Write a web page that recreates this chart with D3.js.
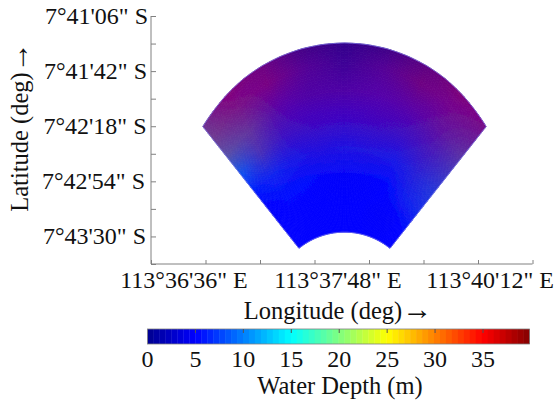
<!DOCTYPE html>
<html>
<head>
<meta charset="utf-8">
<script src="https://cdn.jsdelivr.net/npm/d3@7"></script>
<style>
  html, body { margin: 0; padding: 0; background: #fff; }
  svg { display: block; }
  text { font-family: "Liberation Serif", serif; fill: #111; }
  .axis path, .axis line { stroke: #808080; }
</style>
</head>
<body>
<svg id="chart" width="554" height="402"></svg>
<script>
// axes are arcseconds east of 113d36'00" and south of 7d41'06"
const lonLabels = ["113°36'36\" E", "113°37'48\" E", "113°40'12\" E"];
const lonLabelAt = [21.8, 123.5, 224];
const latLabels = ["7°41'06\" S", "7°41'42\" S", "7°42'18\" S", "7°42'54\" S", "7°43'30\" S"];
const latLabelShift = [0, -1, -1.5, -3, -2];
const depthTicks = [0, 5, 10, 15, 20, 25, 30, 35];

// sector seen from the site, arcseconds
const site = [127.8, 189.4];
const innerRange = 48.2;
const beamBearings = [-38.6, -33.775, -28.95, -24.125, -19.3, -14.475, -9.65, -4.825, 0, 4.825, 9.65, 14.475, 19.3, 24.125, 28.95, 33.775, 38.6];
const outerRange = [150, 154.4, 158.8, 162.7, 165.9, 168.4, 170.3, 171.4, 171.8, 171.4, 170.3, 168.4, 165.9, 162.7, 158.8, 154.4, 150];

// field nodes: one row per share of the way from inner to outer edge
const gridBearings = [-38.6, -28.95, -19.3, -9.65, 0, 9.65, 19.3, 28.95, 38.6];
const gridRows = [0, 0.15, 0.3, 0.45, 0.6, 0.75, 0.9, 1];
const shallowDepth = [
  [5, 5, 5, 5, 5, 5, 5, 5, 5],
  [5, 5, 5, 5, 5, 5, 4.8, 4.8, 5.4],
  [4.8, 5.4, 5.4, 5.2, 5.2, 5.2, 5.2, 6.2, 6.8],
  [5.8, 6.5, 6, 5.7, 5.9, 5.9, 6, 6.5, 7.5],
  [8.3, 7.5, 5.8, 5.3, 5.3, 5.3, 5.6, 6.2, 7.6],
  [9.7, 8.2, 5.4, 4.3, 4.3, 4.9, 5, 5.9, 8],
  [9.1, 6.5, 4.6, 3.6, 2.4, 3.6, 3.8, 5.4, 6.6],
  [8.5, 4.6, 3.8, 1.9, 1.4, 1.7, 2.8, 4.1, 5.7]
];
// share of each pixel taken by the 35 m cells
const deepShare = [
  [0, 0, 0, 0, 0, 0, 0, 0, 0],
  [0, 0, 0, 0, 0, 0, 0, 0, 0],
  [0, 0, 0, 0.01, 0.02, 0.01, 0, 0.06, 0.08],
  [0, 0.06, 0.1, 0.13, 0.12, 0.13, 0.1, 0.15, 0.14],
  [0.04, 0.28, 0.24, 0.25, 0.24, 0.25, 0.24, 0.26, 0.24],
  [0.33, 0.39, 0.35, 0.31, 0.31, 0.33, 0.35, 0.37, 0.35],
  [0.43, 0.47, 0.47, 0.33, 0.24, 0.33, 0.43, 0.45, 0.41],
  [0.43, 0.51, 0.43, 0.27, 0.2, 0.25, 0.37, 0.49, 0.47]
];

const svg = d3.select("#chart");

const x = d3.scaleLinear().domain([0, 252]).range([151, 532.5]);
const y = d3.scaleLinear().domain([0, 162]).range([16, 264]);

const jet = d3.scaleLinear()
  .domain([0, 5, 15, 25, 35, 40])
  .range(["#00008f", "#0000ff", "#00ffff", "#ffff00", "#ff0000", "#800000"])
  .clamp(true);

// axes
const xAxis = svg.append("g")
  .attr("class", "axis")
  .attr("transform", `translate(0, ${y.range()[1]})`)
  .call(d3.axisTop(x).tickValues(d3.range(0, 253, 36)).tickSize(4).tickSizeOuter(0).tickFormat(""));
xAxis.select(".domain").attr("d", `M${x.range()[0]},0H${x.range()[1]}`);

const yAxis = svg.append("g")
  .attr("class", "axis")
  .attr("transform", `translate(${x.range()[0]}, 0)`)
  .call(d3.axisRight(y).tickValues(d3.range(0, 163, 18)).tickSize(5).tickSizeOuter(0).tickFormat(""));
yAxis.select(".domain").attr("d", `M0,${y.range()[0]}V${y.range()[1]}`);

svg.append("g").selectAll("text")
  .data(lonLabels)
  .join("text")
  .attr("x", (d, i) => x(lonLabelAt[i]))
  .attr("y", 288)
  .attr("text-anchor", "middle")
  .attr("font-size", 24)
  .text(d => d);

svg.append("g").selectAll("text")
  .data(latLabels)
  .join("text")
  .attr("x", (d, i) => x(0) + latLabelShift[i] - 3)
  .attr("y", (d, i) => y(i * 36) + 8)
  .attr("text-anchor", "end")
  .attr("font-size", 24)
  .text(d => d);

// the arrow in the titles is drawn longer than the font's own size gives
const latTitle = svg.append("text")
  .attr("transform", "translate(28, 127) rotate(-90)")
  .attr("text-anchor", "middle")
  .attr("font-size", 24.5)
  .text("Latitude (deg)");
latTitle.append("tspan").attr("font-size", 30).text("→");

const lonTitle = svg.append("text")
  .attr("x", 338)
  .attr("y", 319)
  .attr("text-anchor", "middle")
  .attr("font-size", 24.5)
  .text("Longitude (deg)");
lonTitle.append("tspan").attr("font-size", 30).text("→");

// field, shaded between the nodes
const reach = d3.scaleLinear().domain(beamBearings).range(outerRange);
const rowAt = d3.scaleLinear().domain(gridRows).range(d3.range(gridRows.length));
const colAt = d3.scaleLinear().domain(gridBearings).range(d3.range(gridBearings.length));

function nodeValue(grid, t, b) {
  const rf = rowAt(t), cf = colAt(b);
  const r0 = Math.min(Math.floor(rf), gridRows.length - 2);
  const c0 = Math.min(Math.floor(cf), gridBearings.length - 2);
  const top = d3.interpolateNumber(grid[r0][c0], grid[r0][c0 + 1])(cf - c0);
  const bot = d3.interpolateNumber(grid[r0 + 1][c0], grid[r0 + 1][c0 + 1])(cf - c0);
  return d3.interpolateNumber(top, bot)(rf - r0);
}

function place(t, b) {
  const r = innerRange + t * (reach(b) - innerRange);
  const a = b * Math.PI / 180;
  return [x(site[0] + r * Math.sin(a)), y(site[1] - r * Math.cos(a))];
}

// slight blur, the source picture is soft and this hides the seams
const blur = svg.append("defs").append("filter")
  .attr("id", "soft")
  .attr("x", "-5%").attr("y", "-5%").attr("width", "110%").attr("height", "110%");
blur.append("feGaussianBlur").attr("stdDeviation", 0.6);

const shadeSteps = 70, beamSteps = 90;
const bearingSpan = d3.extent(beamBearings);
const shadeT = d3.range(shadeSteps + 1).map(i => i / shadeSteps);
const shadeB = d3.range(beamSteps + 1).map(i => bearingSpan[0] + (bearingSpan[1] - bearingSpan[0]) * i / beamSteps);
const cells = d3.cross(d3.range(shadeSteps), d3.range(beamSteps));

const field = svg.append("g").attr("filter", "url(#soft)");

field.selectAll("path")
  .data(cells)
  .join("path")
  .attr("d", ([i, j]) => {
    const corners = [
      place(shadeT[i], shadeB[j]), place(shadeT[i], shadeB[j + 1]),
      place(shadeT[i + 1], shadeB[j + 1]), place(shadeT[i + 1], shadeB[j])
    ];
    return "M" + corners.join("L") + "Z";
  })
  .each(function([i, j]) {
    const t = (shadeT[i] + shadeT[i + 1]) / 2, b = (shadeB[j] + shadeB[j + 1]) / 2;
    const c = d3.interpolateRgb(jet(nodeValue(shallowDepth, t, b)), jet(35))(nodeValue(deepShare, t, b));
    d3.select(this).attr("fill", c).attr("stroke", c).attr("stroke-width", 0.8);
  });

// outline of the sector
const edge = [
  ...shadeB.map(b => place(1, b)),
  ...shadeB.slice().reverse().map(b => place(0, b))
];
svg.append("path")
  .attr("d", "M" + edge.join("L") + "Z")
  .attr("fill", "none")
  .attr("stroke", "#8080e8")
  .attr("stroke-width", 0.7);

// colour bar
const c = d3.scaleLinear().domain([0, 35]).range([147.5, 483]);
const barMax = 39.85;
const barBins = d3.range(64);
const binW = barMax / barBins.length;

svg.append("g").selectAll("rect")
  .data(barBins)
  .join("rect")
  .attr("x", d => c(d * binW))
  .attr("y", 329)
  .attr("width", c(binW) - c(0) + 0.4)
  .attr("height", 15)
  .attr("fill", d => jet((d + 0.5) * binW));

svg.append("rect")
  .attr("x", c(0))
  .attr("y", 329)
  .attr("width", c(barMax) - c(0))
  .attr("height", 15)
  .attr("fill", "none")
  .attr("stroke", "#808080")
  .attr("stroke-width", 0.8);

svg.append("g").selectAll("line")
  .data(depthTicks.slice(1))
  .join("line")
  .attr("x1", d => c(d))
  .attr("x2", d => c(d))
  .attr("y1", 329)
  .attr("y2", 333)
  .attr("stroke", "#555");

svg.append("g").selectAll("text")
  .data(depthTicks)
  .join("text")
  .attr("x", d => c(d))
  .attr("y", 367)
  .attr("text-anchor", "middle")
  .attr("font-size", 24)
  .text(d => d);

svg.append("text")
  .attr("x", 340)
  .attr("y", 394)
  .attr("text-anchor", "middle")
  .attr("font-size", 24.5)
  .text("Water Depth (m)");
</script>
</body>
</html>
